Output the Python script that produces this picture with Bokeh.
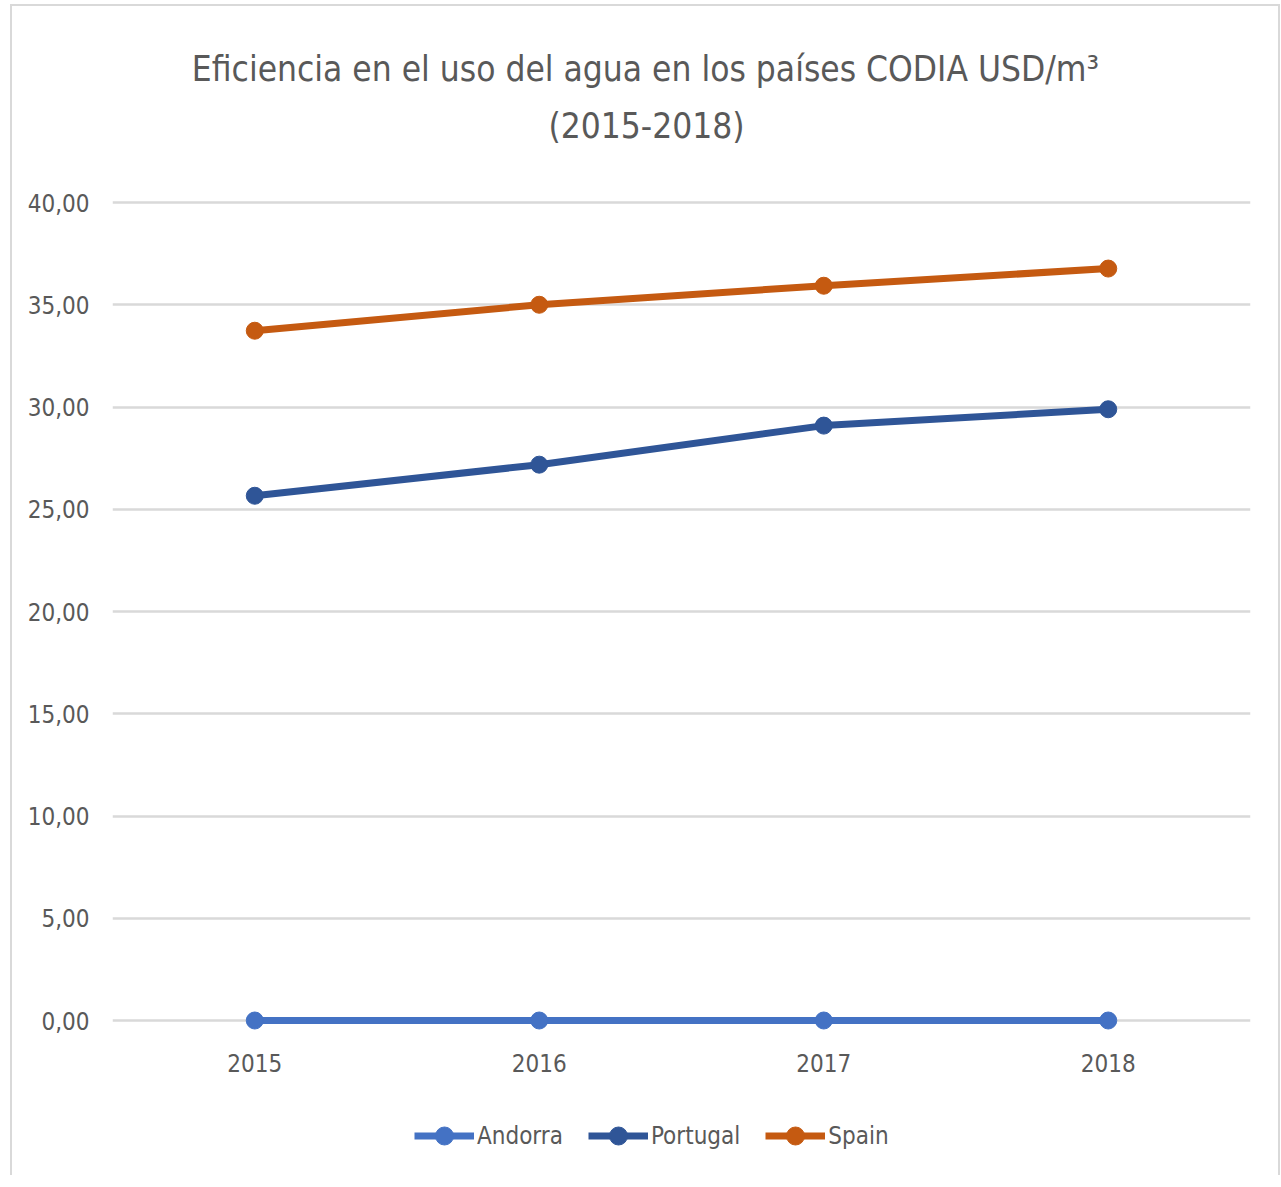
from bokeh.plotting import figure
from bokeh.models import Label, FactorRange, FixedTicker, CustomJSTickFormatter
from bokeh.embed import file_html
from bokeh.resources import INLINE

years = ["2015", "2016", "2017", "2018"]
andorra = [0.0, 0.0, 0.0, 0.0]
portugal = [25.66, 27.18, 29.09, 29.89]
spain = [33.73, 35.0, 35.93, 36.77]
y_ticks = [0, 5, 10, 15, 20, 25, 30, 35, 40]
title_lines = ["Eficiencia en el uso del agua en los países CODIA USD/m³", "(2015-2018)"]

series = [("Andorra", andorra, "#4472C4"),
          ("Portugal", portugal, "#2F5597"),
          ("Spain", spain, "#C55A11")]

FONT = "'DejaVu Sans Condensed', 'Open Sans'"
TXT = "#595959"

# drawing area extended above 40 and below 0 so that title and legend sit inside it
p = figure(frame_width=1138, frame_height=1150, x_range=FactorRange(*years, range_padding=0),
           y_range=(-7.335, 48.9), output_backend="svg", toolbar_location=None,
           min_border_left=100, min_border_right=28, min_border_top=14,
           min_border_bottom=5)
p.styles = {"border-left": "2px solid #D9D9D9", "border-top": "2px solid #D9D9D9",
            "border-right": "2px solid #D9D9D9", "margin-left": "10px", "margin-top": "4px"}
p.outline_line_color = None

for txt, xs, ys in zip(title_lines, [533, 534], [1102, 1045]):
    p.add_layout(Label(x=xs, y=ys, x_units="screen", y_units="screen", text=txt,
                       text_align="center", text_baseline="alphabetic", text_font=FONT,
                       text_font_size="35px", text_color=TXT))

for name, vals, col in series:
    p.line(years, vals, line_color=col, line_width=7, legend_label=name)
    p.scatter(years, vals, size=17, fill_color=col, line_color=col, legend_label=name)

legend = p.legend[0]
legend.orientation = "horizontal"
legend.location = (302, 12)
legend.border_line_color = None
legend.background_fill_alpha = 0
legend.label_text_font = FONT
legend.label_text_font_size = "24px"
legend.label_text_color = TXT
legend.glyph_width = 60
legend.glyph_height = 45
legend.label_standoff = 3
legend.spacing = 25
legend.padding = 0
legend.margin = 0

p.xgrid.grid_line_color = None
p.ygrid.grid_line_color = "#D9D9D9"
p.ygrid.grid_line_width = 2.5
p.yaxis.ticker = FixedTicker(ticks=y_ticks)
p.yaxis.formatter = CustomJSTickFormatter(code="return tick.toFixed(2).replace('.', ',');")
for ax in (p.xaxis, p.yaxis):
    ax.axis_line_color = None
    ax.major_tick_line_color = None
    ax.major_tick_out = 0
    ax.major_tick_in = 0
    ax.minor_tick_line_color = None
    ax.major_label_text_font = FONT
    ax.major_label_text_font_size = "24px"
    ax.major_label_text_color = TXT
p.yaxis.major_label_standoff = 23
p.xaxis.major_label_standoff = -117

open("out.html", "w").write(file_html(p, INLINE))
